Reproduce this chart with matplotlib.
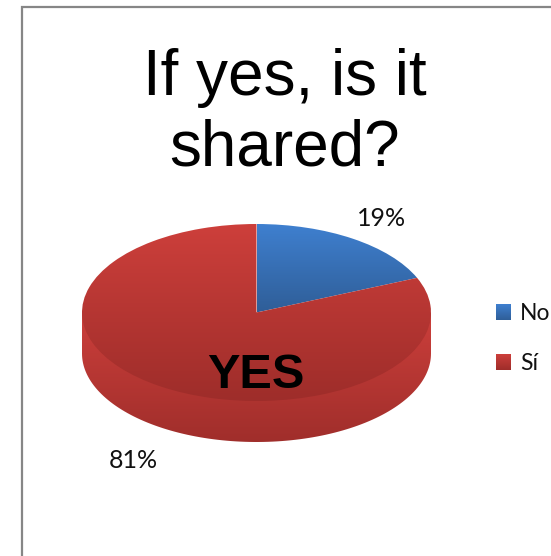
import numpy as np
import matplotlib
matplotlib.use("Agg")
import matplotlib.pyplot as plt
from matplotlib.patches import PathPatch
from matplotlib.path import Path

W, H = 551, 556

# data
categories = ["No", "Sí"]
shares = [18.6, 81.4]
share_labels = ["19%", "81%"]
title = "If yes, is it\nshared?"
note = "YES"

# top / bottom colours of the gradients
blue_grad = ("#3f80d0", "#2f5e98")
red_grad = ("#cd3f3b", "#9e2d2a")
rim_grad = ("#cc3f3b", "#a02e2b")


def gradient(ax, extent, colours):
    c0 = np.array(matplotlib.colors.to_rgb(colours[0]))
    c1 = np.array(matplotlib.colors.to_rgb(colours[1]))
    t = np.linspace(0, 1, 256)[:, None, None]
    img = (c0 * (1 - t) + c1 * t)
    return ax.imshow(img, extent=extent, origin="upper", aspect="auto", zorder=2)


fig = plt.figure(figsize=(W / 100, H / 100), dpi=100)

# pixel axes for frame, legend and text
bg = fig.add_axes([0, 0, 1, 1])
bg.set_xlim(0, W)
bg.set_ylim(H, 0)
bg.axis("off")
bg.plot([22, 22, W + 5], [H + 5, 7, 7], color="#868686", lw=1.6, solid_joinstyle="miter")

# pie axes, x -1..1 covers 82-431 px, y -1..1 covers 224-401 px
left, right, top, bottom = 82, 431, 224, 401
depth = 41 / ((bottom - top) / 2)
low = -1 - depth - 0.1
span_px = (bottom - top) / 2 * (1 - low)
ax = fig.add_axes([left / W, 1 - (top + span_px) / H, (right - left) / W, span_px / H])
wedges, _ = ax.pie(shares, startangle=90, counterclock=False, radius=1, center=(0, 0))
ax.set_aspect("auto")
ax.set_xlim(-1, 1)
ax.set_ylim(low, 1)
ax.axis("off")

# side of the disc
th = np.linspace(np.pi, 2 * np.pi, 120)
rim_pts = np.column_stack([np.cos(th), np.sin(th) - depth])
rim_pts = np.vstack([[-1, 0], rim_pts, [1, 0], [-1, 0]])
rim = PathPatch(Path(rim_pts), fc="none", ec="none", transform=ax.transData)
ax.add_patch(rim)
im = gradient(ax, (-1, 1, -1 - depth, 0), rim_grad)
im.set_clip_path(rim)

# top face, one gradient per slice
wedge_ext = [(0, 1, 0, 1), (-1, 1, -1, 1)]
for w, col, ext in zip(wedges, [blue_grad, red_grad], wedge_ext):
    w.set_facecolor("none")
    w.set_edgecolor("none")
    im = gradient(ax, ext, col)
    im.set_zorder(3)
    im.set_clip_path(w)
ax.set_xlim(-1, 1)
ax.set_ylim(low, 1)

# text on top of everything
fg = fig.add_axes([0, 0, 1, 1])
fg.set_xlim(0, W)
fg.set_ylim(H, 0)
fg.axis("off")
fg.patch.set_alpha(0)

fg.text(284.5, 113, title, ha="center", va="center", family="Liberation Sans",
        fontsize=46, linespacing=1.22, color="black")
fg.text(256, 388, note, ha="center", va="baseline", family="Liberation Sans",
        fontsize=35, fontweight="bold", color="black")
fg.text(382, 218, share_labels[0], ha="center", va="center", family="Lato", fontsize=18, color="#111111")
fg.text(133, 461, share_labels[1], ha="center", va="center", family="Lato", fontsize=18, color="#111111")

# legend
for name, col, y in zip(categories, [blue_grad, red_grad], [304, 354]):
    gradient(fg, (496, 511, y + 16, y), col)
    fg.text(520, y + 10, name, ha="left", va="center", family="Lato", fontsize=16.5, color="#111111")
fg.set_xlim(0, W)
fg.set_ylim(H, 0)

fig.savefig("out.png", dpi=100, facecolor="white")
